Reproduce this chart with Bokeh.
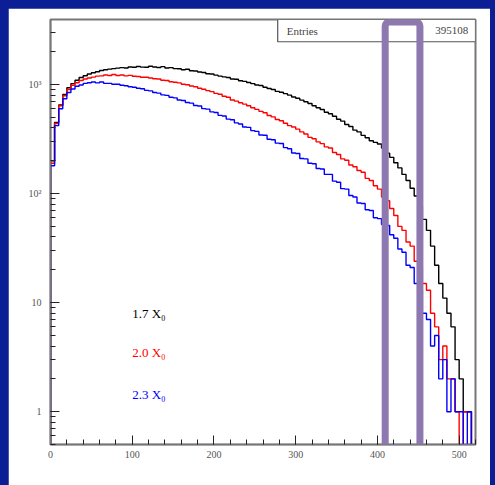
import numpy as np
from bokeh.plotting import figure
from bokeh.models import (Range1d, BoxAnnotation, Label, FixedTicker, LogTicker,
                          GlobalInlineStyleSheet)
from bokeh.embed import file_html
from bokeh.resources import INLINE

# ---- data (counts per 5 MeV bin, 0..520 MeV) ----
bin_width = 5
n_bins = 104
counts_17 = [200, 450, 650, 810, 935, 1020, 1095, 1160, 1205, 1250,
             1285, 1310, 1345, 1365, 1385, 1400, 1415, 1430, 1420, 1450,
             1440, 1465, 1445, 1440, 1470, 1450, 1435, 1460, 1420, 1430,
             1400, 1395, 1365, 1380, 1340, 1330, 1305, 1290, 1255, 1250,
             1220, 1195, 1175, 1160, 1125, 1120, 1085, 1070, 1045, 1020,
             990, 980, 945, 920, 900, 865, 850, 825, 800, 770,
             750, 720, 695, 670, 640, 612, 590, 558, 540, 512,
             480, 462, 430, 412, 382, 368, 342, 325, 305, 295,
             285, 262, 235, 215, 192, 172, 150, 132, 112, 95,
             76, 58, 46, 33, 22, 15, 11, 8, 6, 3,
             2, 1, 1, 0]
counts_20 = [190, 440, 640, 790, 900, 985, 1040, 1090, 1125, 1150,
             1170, 1195, 1200, 1225, 1210, 1235, 1210, 1225, 1200, 1215,
             1190, 1185, 1165, 1165, 1150, 1130, 1125, 1095, 1090, 1060,
             1050, 1035, 1005, 995, 970, 955, 925, 905, 880, 862,
             830, 815, 780, 765, 722, 705, 680, 662, 640, 612,
             592, 568, 552, 520, 505, 478, 465, 442, 420, 408,
             390, 368, 352, 328, 318, 298, 287, 268, 262, 238,
             228, 208, 202, 183, 176, 163, 157, 138, 132, 118,
             110, 93, 86, 73, 63, 50, 46, 36, 33, 24,
             21, 15, 13, 8, 6, 3, 4, 2, 2, 1,
             0, 1, 1, 0]
counts_23 = [180, 420, 600, 740, 845, 910, 965, 990, 1025, 1040,
             1055, 1035, 1055, 1025, 1025, 1005, 1005, 985, 975, 955,
             945, 925, 915, 885, 875, 845, 835, 805, 795, 765,
             755, 722, 715, 685, 675, 642, 635, 602, 595, 562,
             555, 522, 515, 482, 475, 445, 435, 408, 405, 378,
             372, 345, 343, 315, 312, 290, 288, 264, 258, 236,
             233, 210, 208, 190, 188, 170, 168, 150, 150, 130,
             127, 111, 110, 96, 93, 82, 81, 71, 70, 60,
             59, 52, 51, 42, 39, 31, 29, 22, 21, 15,
             13, 8, 7, 4, 5, 2, 3, 1, 2, 1,
             1, 0, 1, 0]
series_labels = ["1.7 X\u2080", "2.0 X\u2080", "2.3 X\u2080"]
series_colors = ["#000000", "#ff0000", "#0000ff"]
entries_text = "395108"
x_ticks = [0, 100, 200, 300, 400, 500]
x_minor_ticks = list(range(0, 521, 20))

# ---- figure ----
p = figure(width=482, height=477, output_backend="svg", toolbar_location=None,
           y_axis_type="log",
           x_range=Range1d(0, 520), y_range=Range1d(0.5, 3950),
           min_border_left=42, min_border_right=15, min_border_top=11,
           min_border_bottom=41)
p.stylesheets = [GlobalInlineStyleSheet(
    css="body{background:#0b1e96;margin:8px 0 0 8px;overflow:hidden;}")]
p.border_fill_color = "white"
p.background_fill_color = "white"
p.outline_line_color = "#777777"
p.outline_line_width = 2
p.grid.visible = False

floor = 0.2
edges = np.arange(n_bins + 1) * bin_width
for counts, color in zip([counts_17, counts_20, counts_23], series_colors):
    c = np.maximum(np.array(counts, dtype=float), floor)
    xs = np.repeat(edges, 2)
    ys = np.concatenate([[floor], np.repeat(c, 2), [floor]])
    p.line(xs, ys, line_color=color, line_width=1.4)

font = "Liberation Serif"
for ax in (p.xaxis[0], p.yaxis[0]):
    ax.axis_line_color = "#777777"
    ax.axis_line_width = 1.5
    ax.major_tick_line_color = "#222222"
    ax.minor_tick_line_color = "#222222"
    ax.major_tick_line_width = 1
    ax.minor_tick_line_width = 1
    ax.major_tick_out = 0
    ax.minor_tick_out = 0
    ax.major_tick_in = 9
    ax.minor_tick_in = 5
    ax.major_label_text_font = font
    ax.major_label_text_font_size = "10px"
    ax.major_label_text_color = "#555555"

p.xaxis.ticker = FixedTicker(ticks=x_ticks, minor_ticks=x_minor_ticks)
p.xaxis.major_label_standoff = 6

p.yaxis.ticker = LogTicker(num_minor_ticks=10)
p.yaxis.major_label_standoff = 9
p.yaxis.major_label_overrides = {1: "1", 10: "10", 100: "10\u00b2", 1000: "10\u00b3"}

# stats box
p.add_layout(BoxAnnotation(left=278, right=520, bottom=2470, top=3950,
                           fill_color="white", fill_alpha=1,
                           line_color="#555555", line_alpha=1, line_width=1.2))
p.add_layout(Label(x=289, y=3130, text="Entries", text_font=font,
                   text_font_size="11px", text_color="#444444",
                   text_baseline="middle"))
p.add_layout(Label(x=511, y=3130, text=entries_text, text_font=font,
                   text_font_size="11px", text_color="#444444",
                   text_baseline="middle", text_align="right"))

# legend texts
for lab, color, yv in zip(series_labels, series_colors, [7.9, 3.5, 1.45]):
    p.add_layout(Label(x=100, y=yv, text=lab, text_font=font,
                       text_font_size="13px", text_color=color,
                       text_baseline="middle"))

# axis unit
p.add_layout(Label(x=519, y=0.25, text="MeV", text_font=font,
                   text_font_size="10px", text_color="#555555",
                   text_baseline="middle", text_align="right"))

# highlight box
p.add_layout(BoxAnnotation(left=409.5, right=452, bottom=0.47, top=3750,
                           fill_alpha=0, line_color="#8e78b0", line_alpha=1,
                           line_width=7, border_radius=4, level="overlay"))

open("out.html", "w").write(file_html(p, INLINE))
